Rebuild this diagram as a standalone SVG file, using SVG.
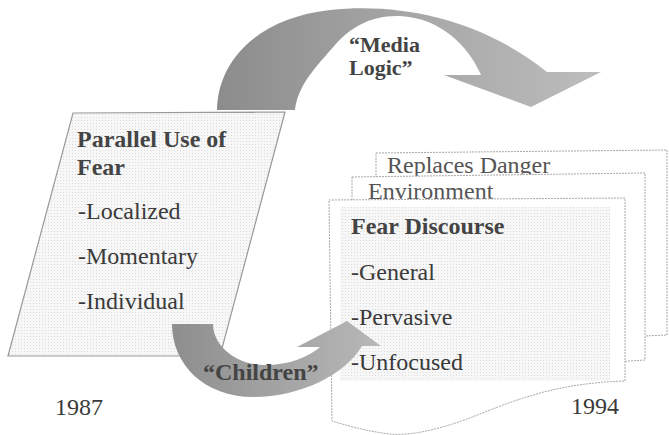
<svg xmlns="http://www.w3.org/2000/svg" width="669" height="435" viewBox="0 0 669 435">
<defs>
<pattern id="grid" width="3" height="3" patternUnits="userSpaceOnUse">
<rect width="3" height="3" fill="#f7f7f7"/>
<rect width="1" height="1" fill="#dcdcdc"/>
</pattern>
<linearGradient id="gMedia" gradientUnits="userSpaceOnUse" x1="217" y1="0" x2="601" y2="0">
<stop offset="0" stop-color="#8c8c8c"/>
<stop offset="0.45" stop-color="#a4a4a4"/>
<stop offset="1" stop-color="#bdbdbd"/>
</linearGradient>
<linearGradient id="gChild" gradientUnits="userSpaceOnUse" x1="172" y1="0" x2="381" y2="0">
<stop offset="0" stop-color="#8e8e8e"/>
<stop offset="1" stop-color="#b8b8b8"/>
</linearGradient>
</defs>
<style>
text{font-size:24px;fill:#3a3a3a}
.b{font-weight:bold;fill:#444}
.g{fill:#555}
.m{font-size:22px}
.page{fill:#fff;stroke:#a8a8a8;stroke-width:1;stroke-dasharray:2 1}
</style>
<rect width="669" height="435" fill="#fff"/>

<g font-family="'Liberation Serif', 'DejaVu Serif', serif">
<g id="connectors">
<path id="arrow-media-logic" d="M217,110 C218,60 258,18 330,10 C405,2 485,22 547,72 L601,72 L531,107 L444,75 L481,75 C468,45 440,18 400,16 C370,15 350,28 335,45 C315,68 298,85 295,110 Z" fill="url(#gMedia)"/>
<text class="b m" x="349" y="52">“Media</text>
<text class="b m" x="349" y="75">Logic”</text>
</g>

<g id="node-parallel-use">
<path d="M73,113 L285,112 L220,356 L8,356 Z" fill="url(#grid)" stroke="#999" stroke-width="1.2"/>
<text class="b" x="77" y="147">Parallel Use of</text>
<text class="b" x="77" y="175">Fear</text>
<text x="78" y="219">-Localized</text>
<text x="78" y="264">-Momentary</text>
<text x="78" y="309">-Individual</text>
</g>

<g id="label-1987">
<text x="55" y="415">1987</text>
</g>

<g id="node-fear-discourse">
<path class="page" d="M376,153 L667,150 L667,335 L600,338 L376,338 Z"/>
<text class="g" x="387" y="173">Replaces Danger</text>
<path class="page" d="M352,177 L645,173 L645,360 L600,363 L352,363 Z"/>
<text class="g" x="368" y="199">Environment</text>
<path class="page" d="M329,200 L625,198 L625,381 C560,383 520,398 480,414 C440,430 410,436 390,434 C365,431 345,425 332,421 Z"/>
<rect x="340" y="207" width="270" height="174" fill="url(#grid)"/>
<text class="b" x="351" y="234">Fear Discourse</text>
<text x="351" y="280">-General</text>
<text x="351" y="325">-Pervasive</text>
<text x="351" y="370">-Unfocused</text>
</g>

<g id="label-1994">
<text x="571" y="414">1994</text>
</g>

<g id="connectors-children">
<path id="arrow-children" d="M172,324 L213,324 C213,345 235,365 265,365 C290,365 308,357 320,347 L297,347 L347,321 L381,346 L362,346 C345,375 300,397 253,397 C205,397 172,365 172,324 Z" fill="url(#gChild)"/>
<text class="b" x="203" y="380">“Children”</text>
</g>
</g>
</svg>
